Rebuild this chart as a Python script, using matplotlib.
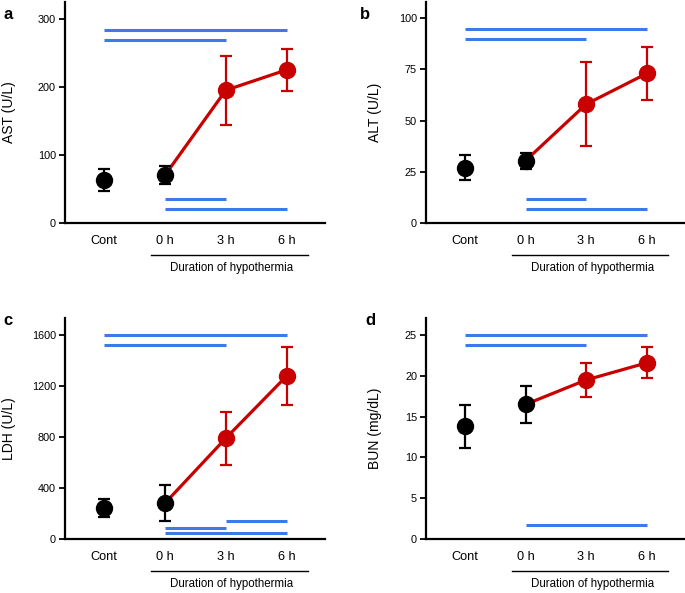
import matplotlib
matplotlib.use("Agg")
import matplotlib.pyplot as plt
import matplotlib.transforms as mtransforms

plt.rcParams['font.family'] = ['Liberation Sans', 'DejaVu Sans']

groups = ["Cont", "0 h", "3 h", "6 h"]

ast_mean = [63, 70, 195, 225]
ast_err = [16, 13, 51, 31]
alt_mean = [27, 30.4, 58, 73]
alt_err = [6, 4, 20.4, 13]
ldh_mean = [245, 280, 790, 1278]
ldh_err = [70, 141, 209, 225]
bun_mean = [13.8, 16.5, 19.5, 21.6]
bun_err = [2.6, 2.3, 2.1, 1.9]

# significance bars: (start group, end group, y value)
ast_sig = [(0, 3, 284), (0, 2, 269), (1, 2, 35), (1, 3, 20)]
alt_sig = [(0, 3, 94.6), (0, 2, 89.7), (1, 2, 11.6), (1, 3, 6.7)]
ldh_sig = [(0, 3, 1600), (0, 2, 1522), (2, 3, 144), (1, 2, 89), (1, 3, 44)]
bun_sig = [(0, 3, 25.0), (0, 2, 23.8), (1, 3, 1.7)]

panels = [
    ("a", "AST (U/L)", ast_mean, ast_err, ast_sig, [0, 100, 200, 300], 325),
    ("b", "ALT (U/L)", alt_mean, alt_err, alt_sig, [0, 25, 50, 75, 100], 108),
    ("c", "LDH (U/L)", ldh_mean, ldh_err, ldh_sig, [0, 400, 800, 1200, 1600], 1733),
    ("d", "BUN (mg/dL)", bun_mean, bun_err, bun_sig, [0, 5, 10, 15, 20, 25], 27.1),
]

# axes rectangles in figure fraction
rects = [
    [0.0949, 0.624, 0.3796, 0.373],
    [0.622, 0.624, 0.378, 0.373],
    [0.0949, 0.0911, 0.3796, 0.3727],
    [0.622, 0.0911, 0.378, 0.3727],
]
letter_pos = [(0.005, 0.975), (0.525, 0.975), (0.005, 0.46), (0.533, 0.46)]
ylabel_x = [0.013, 0.548, 0.013, 0.548]

red = "#c80000"
blue = "#3b7ae8"

fig = plt.figure(figsize=(6.85, 5.93), dpi=100)

for i, (letter, ylabel, mean, err, sig, ticks, ytop) in enumerate(panels):
    ax = fig.add_axes(rects[i])
    x = list(range(len(groups)))

    # red line joining hypothermia groups
    ax.plot(x[1:], mean[1:], color=red, linewidth=2.3, zorder=2)
    # black points: Cont and 0 h
    ax.errorbar(x[:2], mean[:2], yerr=err[:2], fmt="o", color="black",
                markersize=11.5, elinewidth=1.6, capsize=4.6, capthick=1.6, zorder=3)
    # red points: 3 h and 6 h
    ax.errorbar(x[2:], mean[2:], yerr=err[2:], fmt="o", color=red,
                markersize=11.5, elinewidth=1.6, capsize=4.6, capthick=1.6, zorder=3)

    for s, e, yv in sig:
        ax.plot([s, e], [yv, yv], color=blue, linewidth=2.2, solid_capstyle="butt", zorder=1)

    ax.set_xlim(-0.64, 3.63)
    ax.set_ylim(0, ytop)
    ax.set_yticks(ticks)
    ax.tick_params(axis="y", direction="out", length=4.5, width=1.3, labelsize=7.8, pad=2)
    ax.set_xticks(x)
    ax.set_xticklabels(groups, fontsize=9.2)
    ax.tick_params(axis="x", length=0, pad=9)
    for side in ["top", "right"]:
        ax.spines[side].set_visible(False)
    ax.spines["left"].set_linewidth(1.6)
    ax.spines["bottom"].set_linewidth(1.6)

    trans = mtransforms.blended_transform_factory(ax.transData, ax.transAxes)
    ax.plot([0.77, 3.35], [-0.145, -0.145], color="black", linewidth=1.0,
            transform=trans, clip_on=False)
    ax.text(2.1, -0.205, "Duration of hypothermia", transform=trans,
            ha="center", va="center", fontsize=8.3)

    fig.text(ylabel_x[i], rects[i][1] + rects[i][3] * 0.5, ylabel, rotation=90,
             ha="center", va="center", fontsize=10)
    fig.text(letter_pos[i][0], letter_pos[i][1], letter, fontsize=12,
             fontweight="bold", ha="left", va="center")

fig.savefig("out.png", dpi=100)
